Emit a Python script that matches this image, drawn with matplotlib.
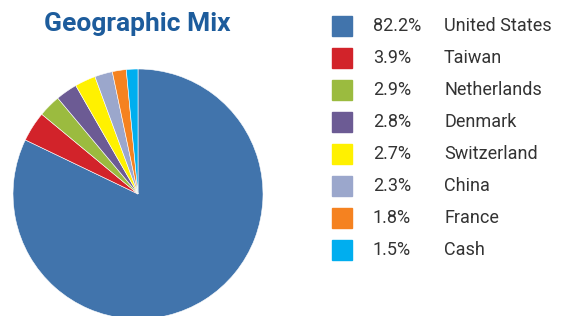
import matplotlib.pyplot as plt
from matplotlib.patches import Rectangle

plt.rcParams['font.family'] = ['Roboto', 'DejaVu Sans']

countries = ["United States", "Taiwan", "Netherlands", "Denmark",
             "Switzerland", "China", "France", "Cash"]
weights = [82.2, 3.9, 2.9, 2.8, 2.7, 2.3, 1.8, 1.5]
colors = ["#4174ac", "#d2232a", "#9bbb3f", "#6c5b94",
          "#fff100", "#9ba7cc", "#f58220", "#00aeef"]

W, H = 563, 316
fig = plt.figure(figsize=(W / 100, H / 100), dpi=100)

# pie: centre (138, 194) px, radius 125 px
cx, cy, r = 138, 194, 125
ax = fig.add_axes([(cx - r) / W, (H - cy - r) / H, 2 * r / W, 2 * r / H])
ax.pie(weights, colors=colors, startangle=90, counterclock=False,
       wedgeprops=dict(edgecolor="white", linewidth=0.4))
ax.set_xlim(-1, 1)
ax.set_ylim(-1, 1)
ax.set_aspect("equal")

# overlay in pixel coords for title and legend
ov = fig.add_axes([0, 0, 1, 1])
ov.set_xlim(0, W)
ov.set_ylim(H, 0)
ov.axis("off")

ov.text(137, 24, "Geographic Mix", ha="center", va="center",
        fontsize=19, fontweight="bold", color="#1d5c9c")

for i, (name, w, c) in enumerate(zip(countries, weights, colors)):
    y = 26 + 32 * i
    ov.add_patch(Rectangle((332, y - 10), 20, 20, color=c))
    ov.text(373, y, f"{w:.1f}%", ha="left", va="center",
            fontsize=13, color="#333333")
    ov.text(444, y, name, ha="left", va="center",
            fontsize=13, color="#333333")

fig.savefig("out.png", dpi=100)
